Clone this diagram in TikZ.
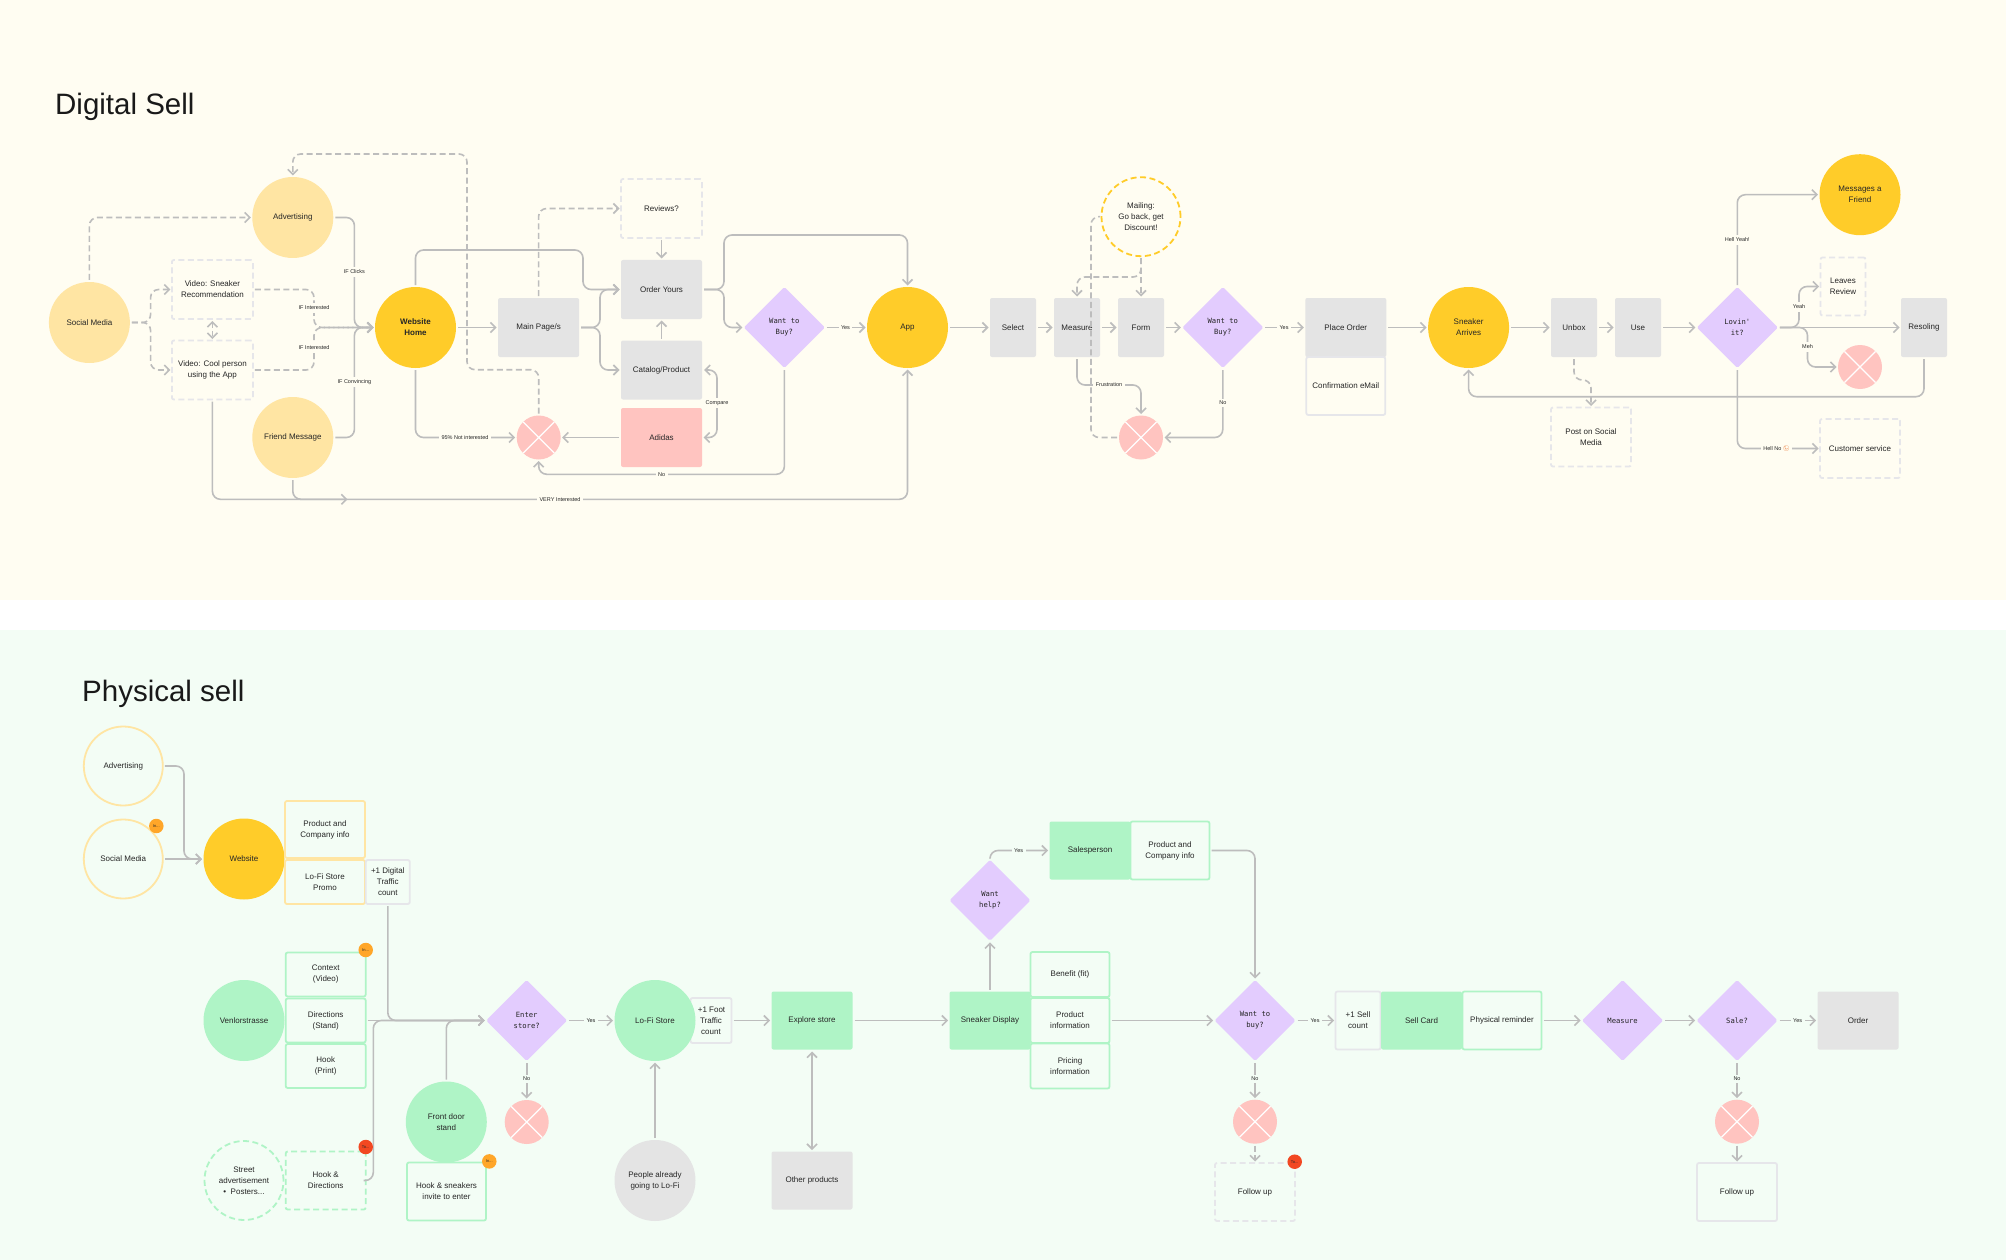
\documentclass[tikz,border=0pt]{standalone}
\usepackage{fontspec}
\setmainfont{Liberation Sans}
\newfontfamily\monof{DejaVu Sans Mono}
\newfontfamily\emojif{Noto Emoji}
\usetikzlibrary{arrows.meta,shapes.geometric}
\definecolor{bgY}{HTML}{FFFDF2}
\definecolor{bgG}{HTML}{F3FDF5}
\definecolor{cY}{HTML}{FFCC29}
\definecolor{cLY}{HTML}{FFE5A3}
\definecolor{cGr}{HTML}{E4E4E4}
\definecolor{cP}{HTML}{FFC4C0}
\definecolor{cV}{HTML}{E3CCFE}
\definecolor{cG}{HTML}{AFF4C6}
\definecolor{cT}{HTML}{262626}
\definecolor{cL}{HTML}{BDBDBD}
\definecolor{cD}{HTML}{E6E6EA}
\definecolor{cO}{HTML}{FFA629}
\definecolor{cR}{HTML}{F24822}
\definecolor{cE}{HTML}{E8641B}
\tikzset{
  sz/.style 2 args={minimum width=#1pt,minimum height=#2pt},
  base/.style={inner sep=0pt,outer sep=0pt,align=center,text=cT,font=\fontsize{8}{11}\selectfont},
  circ/.style={base,circle,minimum size=81pt},
  ycirc/.style={circ,fill=cY},
  lycirc/.style={circ,fill=cLY},
  gcirc/.style={circ,fill=cG},
  grcirc/.style={circ,fill=cGr},
  ocirc/.style={circ,draw=cLY,line width=1.8pt,minimum size=79pt},
  rect/.style={base,rectangle,rounded corners=2pt},
  grect/.style={rect,fill=cGr},
  grnrect/.style={rect,fill=cG},
  pinkrect/.style={rect,fill=cP},
  dashrect/.style={rect,draw=cD,line width=1.8pt,dash pattern=on 6pt off 3.5pt},
  lrect/.style={rect,draw=cD,line width=1.8pt},
  yrect/.style={rect,draw=cLY,line width=1.8pt},
  gnrect/.style={rect,draw=cG,line width=1.8pt},
  gndash/.style={rect,draw=cG,line width=1.8pt,dash pattern=on 6pt off 3.5pt},
  dia/.style={base,diamond,aspect=1,fill=cV,minimum width=81pt,minimum height=81pt,rounded corners=1.5pt,font=\monof\fontsize{7.2}{11}\selectfont},
  xc/.style={circle,minimum size=44pt,inner sep=0pt,outer sep=0pt,fill=cP,path picture={
     \draw[white,line width=1.2pt] (path picture bounding box.south west)--(path picture bounding box.north east)
       (path picture bounding box.north west)--(path picture bounding box.south east);}},
  con/.style={draw=cL,line width=1.6pt,rounded corners=8pt,shorten >=1.5pt,shorten <=2pt},
  arr/.style={con,-{Straight Barb[length=5pt,width=10pt]}},
  darr/.style={arr,dash pattern=on 6pt off 3.5pt},
  dline/.style={con,dash pattern=on 6pt off 3.5pt},
  both/.style={con,{Straight Barb[length=5pt,width=10pt]}-{Straight Barb[length=5pt,width=10pt]}},
  labY/.style={inner xsep=2.5pt,inner ysep=2.5pt,outer sep=0pt,fill=bgY,text=cT,font=\fontsize{5.5}{6}\selectfont},
  labG/.style={inner xsep=2.5pt,inner ysep=2.5pt,outer sep=0pt,fill=bgG,text=cT,font=\fontsize{5.5}{6}\selectfont},
  badge/.style={circle,minimum size=14.5pt,inner sep=0pt,text=cT,font=\fontsize{4}{4}\selectfont},
  title/.style={anchor=west,inner sep=0pt,text=black!90,font=\fontsize{29.5}{32}\selectfont},
}
\begin{document}
\begin{tikzpicture}[x=1pt,y=-1pt]
\useasboundingbox (0,0) rectangle (2006,1260);
\fill[white] (0,0) rectangle (2006,1260);
\fill[bgY] (0,0) rectangle (2006,600);
\fill[bgG] (0,630) rectangle (2006,1260);
\node[title] (t1) at (55,107) {Digital Sell};
\node[title] (t2) at (82,694) {Physical sell};

% ---------- Digital nodes
\node[lycirc] (sm) at (89.4,322.5) {Social Media};
\node[lycirc] (adv) at (292.8,217.5) {Advertising};
\node[lycirc] (fri) at (292.8,437.5) {Friend Message};
\node[ycirc,font=\fontsize{8}{11}\selectfont\bfseries] (home) at (415.5,327.5) {Website\\Home};
\node[dashrect,sz={81}{59}] (v1) at (212.4,289.5) {Video: Sneaker\\Recommendation};
\node[dashrect,sz={81}{59}] (v2) at (212.4,370) {Video: Cool person\\using the App};
\node[grect,sz={81}{59}] (main) at (538.6,327.5) {Main Page/s};
\node[dashrect,sz={81}{59}] (rev) at (661.5,208.5) {Reviews?};
\node[grect,sz={81}{59}] (ord) at (661.5,289.5) {Order Yours};
\node[grect,sz={81}{59}] (cat) at (661.5,370) {Catalog/Product};
\node[pinkrect,sz={81}{59}] (adi) at (661.5,437.5) {Adidas};
\node[xc] (x1) at (538.7,437.5) {};
\node[dia] (w1) at (784.4,327.5) {Want to\\Buy?};
\node[ycirc] (app) at (907.5,327.5) {App};
\node[grect,sz={46}{59}] (sel) at (1013,327.5) {Select};
\node[grect,sz={46}{59}] (mea) at (1077,327.5) {Measure};
\node[grect,sz={46}{59}] (form) at (1141,327.5) {Form};
\node[dia] (w2) at (1222.8,327.5) {Want to\\Buy?};
\node[circ,draw=cY,line width=1.8pt,dash pattern=on 6pt off 3.5pt,minimum size=79pt] (mail) at (1141,216.7) {Mailing:\\Go back, get\\Discount!};
\node[xc] (x2) at (1141,437.5) {};
\node[grect,sz={81}{59}] (place) at (1345.8,327.5) {Place Order};
\node[lrect,sz={79}{58}] (conf) at (1345.8,386) {Confirmation eMail};
\node[ycirc] (snk) at (1468.6,327.5) {Sneaker\\Arrives};
\node[grect,sz={46}{59}] (unb) at (1574,327.5) {Unbox};
\node[grect,sz={46}{59}] (use) at (1638,327.5) {Use};
\node[dia] (lov) at (1737.3,327.5) {Lovin'\\it?};
\node[ycirc] (msg) at (1860,194.7) {Messages a\\Friend};
\node[dashrect,sz={45}{58}] (lea) at (1843,286.5) {Leaves\\Review};
\node[grect,sz={46}{59}] (res) at (1924,327.5) {Resoling};
\node[xc] (x3) at (1860,367) {};
\node[dashrect,sz={80}{59}] (cus) at (1860,448.5) {Customer service};
\node[dashrect,sz={80}{59}] (post) at (1591,437) {Post on Social\\Media};

% ---------- Physical nodes
\node[ocirc] (padv) at (123.3,766) {Advertising};
\node[ocirc] (psm) at (123.3,859) {Social Media};
\node[ycirc] (web) at (244,859) {Website};
\node[yrect,sz={80}{57}] (pc1) at (325,829.5) {Product and\\Company info};
\node[yrect,sz={80}{44}] (lfp) at (325,882) {Lo-Fi Store\\Promo};
\node[lrect,sz={44}{44}] (dt) at (387.8,882) {+1 Digital\\Traffic\\count};
\node[gnrect,sz={80}{44}] (ctx) at (325.7,974.5) {Context\\(Video)};
\node[gnrect,sz={80}{44}] (dir) at (325.7,1020.5) {Directions\\(Stand)};
\node[gnrect,sz={80}{44}] (hk) at (325.7,1066) {Hook\\(Print)};
\node[gcirc] (ven) at (244,1020.5) {Venlorstrasse};
\node[dia] (ent) at (526.7,1020.5) {Enter\\store?};
\node[circ,draw=cG,line width=1.8pt,dash pattern=on 6pt off 3.5pt,minimum size=79pt] (str) at (244,1180.5) {Street\\advertisement\\ \textbullet\ \ Posters...};
\node[gndash,sz={80}{58}] (hd) at (325.7,1180.5) {Hook \&\\Directions};
\node[gcirc] (fd) at (446.3,1122) {Front door\\stand};
\node[gnrect,sz={79}{58}] (hs) at (446.5,1191.5) {Hook \& sneakers\\invite to enter};
\node[xc] (x4) at (526.7,1122) {};
\node[lrect,sz={41}{45}] (ft) at (711,1020.5) {\hspace*{1pt}+1 Foot\\Traffic\\count};
\node[gcirc] (lofi) at (655,1020.5) {Lo-Fi Store};
\node[grnrect,sz={81}{58}] (exp) at (812,1020.5) {Explore store};
\node[grnrect,sz={81}{58}] (dis) at (990,1020.5) {Sneaker Display};
\node[grect,sz={81}{58}] (oth) at (812,1180.5) {Other products};
\node[grcirc] (ppl) at (655,1180.5) {People already\\going to Lo-Fi};
\node[dia] (hlp) at (990,900.3) {Want\\help?};
\node[grnrect,sz={81}{58}] (sal) at (1090,850.5) {Salesperson};
\node[gnrect,sz={79}{58}] (pc2) at (1170,850.5) {Product and\\Company info};
\node[gnrect,sz={79}{45}] (ben) at (1070,974.5) {Benefit (fit)};
\node[gnrect,sz={79}{45}] (pri) at (1070,1020.5) {Product\\information};
\node[gnrect,sz={79}{45}] (prc) at (1070,1066) {Pricing\\information};
\node[dia] (buy) at (1255,1020.5) {Want to\\buy?};
\node[lrect,sz={45}{58}] (sc) at (1358,1020.5) {+1 Sell\\count};
\node[grnrect,sz={81}{58}] (car) at (1421.5,1020.5) {Sell Card};
\node[gnrect,sz={79}{58}] (phy) at (1502,1020.5) {Physical reminder};
\node[dia] (pme) at (1622.6,1020.5) {Measure};
\node[dia] (sale) at (1737,1020.5) {Sale?};
\node[grect,sz={81}{58}] (pord) at (1858,1020.5) {Order};
\node[xc] (x5) at (1255,1121.7) {};
\node[xc] (x6) at (1737,1121.7) {};
\node[dashrect,sz={80}{58}] (fu1) at (1255,1192) {Follow up};
\node[lrect,sz={80}{58}] (fu2) at (1737,1192) {Follow up};

% ---------- Digital connectors
\draw[darr] (sm.north) |- (adv.west);
\draw[darr] (sm.east) -- (150.6,322.5) |- (v1.west);
\draw[darr] (sm.east) -- (150.6,322.5) |- (v2.west);
\draw[both,dash pattern=on 5pt off 3pt] (v1.south) -- (v2.north);
\draw[darr] (v1.east) -- (314,289.5) -- (314,327.5) -- (home.west);
\draw[darr] (v2.east) -- (314,370) -- (314,327.5) -- (home.west);
\draw[arr] (adv.east) -- (354.4,217.5) -- (354.4,327.5) -- (home.west);
\draw[arr] (fri.east) -- (354.4,437.5) -- (354.4,327.5) -- (home.west);
\draw[arr] (v2.south) -- (212.4,499.3) -- (907.5,499.3) -- (app.south);
\coordinate (midchev) at (349,499.3);
\draw[arr] (fri.south) -- (292.8,499.3) -- (midchev);
\draw[arr] (home.south) |- (x1.west);
\draw[darr] (x1.north) -- (538.7,369.7) -- (467,369.7) -- (467,154) -- (292.8,154) -- (adv.north);
\draw[arr] (home.north) -- (415.5,250) -- (583,250) -- (583,289.5) -- (ord.west);
\draw[arr] (home.east) -- (main.west);
\draw[darr] (main.north) |- (rev.west);
\draw[arr] (main.east) -- (600,327.5) -- (600,289.5) -- (ord.west);
\draw[arr] (main.east) -- (600,327.5) -- (600,370) -- (cat.west);
\draw[arr] (rev.south) -- (ord.north);
\draw[arr] (cat.north) -- (ord.south);
\draw[arr] (adi.west) -- (x1.east);
\draw[both] (cat.east) -- (717,370) -- (717,437.5) -- (adi.east);
\draw[arr] (w1.south) -- (784.4,474.3) -- (538.7,474.3) -- (x1.south);
\draw[arr] (ord.east) -- (724,289.5) -- (724,235) -- (907.5,235) -- (app.north);
\draw[arr] (ord.east) -- (724,289.5) -- (724,327.5) -- (w1.west);
\draw[arr] (w1.east) -- (app.west);
\draw[arr] (app.east) -- (sel.west);
\draw[arr] (sel.east) -- (mea.west);
\draw[arr] (mea.east) -- (form.west);
\draw[arr] (form.east) -- (w2.west);
\draw[arr] (w2.east) -- (place.west);
\draw[darr] (mail.south) -- (form.north);
\draw[darr] (mail.south) -- (1141,277) -- (1077,277) -- (mea.north);
\draw[dline] (x2.west) -- (1091,437.5) -- (1091,216.7) -- (mail.west);
\draw[arr] (mea.south) -- (1077,385) -- (1141,385) -- (x2.north);
\draw[arr] (w2.south) -- (1222.8,437.5) -- (x2.east);
\draw[arr] (place.east) -- (snk.west);
\draw[arr] (snk.east) -- (unb.west);
\draw[arr] (unb.east) -- (use.west);
\draw[arr] (use.east) -- (lov.west);
\draw[darr] (unb.south) -- (1574,380) -- (1591,380) -- (post.north);
\draw[arr] (lov.north) |- (msg.west);
\draw[arr] (lov.east) -- (res.west);
\draw[arr] (lov.east) -- (1799,327.5) -- (1799,286.5) -- (lea.west);
\draw[arr] (lov.east) -- (1807.5,327.5) -- (1807.5,367) -- (x3.west);
\draw[arr] (lov.south) |- (cus.west);
\draw[arr] (res.south) -- (1924,396.7) -- (1468.6,396.7) -- (snk.south);

% ---------- Physical connectors
\draw[arr] (padv.east) -- (184,766) -- (184,859) -- (web.west);
\draw[arr] (psm.east) -- (web.west);
\draw[arr] (dt.south) -- (387.8,1020.5) -- (ent.west);
\draw[arr] (dir.east) -- (ent.west);
\draw[arr] (hd.east) -- (373.3,1180.5) -- (373.3,1020.5) -- (ent.west);
\draw[arr] (fd.north) -- (446.3,1020.5) -- (ent.west);
\draw[arr] (ent.east) -- (lofi.west);
\draw[arr] (ent.south) -- (x4.north);
\draw[arr] (ft.east) -- (exp.west);
\draw[arr] (ppl.north) -- (lofi.south);
\draw[both] (exp.south) -- (oth.north);
\draw[arr] (exp.east) -- (dis.west);
\draw[arr] (dis.north) -- (hlp.south);
\draw[arr] (hlp.north) -- (990,850.5) -- (sal.west);
\draw[arr] (pc2.east) -- (1255,850.5) -- (buy.north);
\draw[arr] (pri.east) -- (buy.west);
\draw[arr] (buy.east) -- (sc.west);
\draw[arr] (buy.south) -- (x5.north);
\draw[darr] (x5.south) -- (fu1.north);
\draw[arr] (phy.east) -- (pme.west);
\draw[arr] (pme.east) -- (sale.west);
\draw[arr] (sale.east) -- (pord.west);
\draw[arr] (sale.south) -- (x6.north);
\draw[arr] (x6.south) -- (fu2.north);

% ---------- Labels
\node[labY] (l1) at (354.4,272) {IF Clicks};
\node[labY] (l2) at (354.4,382) {IF Convincing};
\node[labY] (l3) at (314,308) {IF Interested};
\node[labY] (l4) at (314,348) {IF Interested};
\node[labY] (l5) at (560,499.3) {VERY Interested};
\node[labY] (l6) at (465,437.5) {95\% Not interested};
\node[labY] (l7) at (661.6,474.3) {No};
\node[labY] (l8) at (717,403) {Compare};
\node[labY] (l9) at (845.5,327.5) {Yes};
\node[labY] (l10) at (1109,385) {Frustration};
\node[labY] (l11) at (1222.8,403) {No};
\node[labY] (l12) at (1284,327.5) {Yes};
\node[labY] (l13) at (1737.3,240) {Hell Yeah!};
\node[labY] (l14) at (1799,307) {Yeah};
\node[labY] (l15) at (1807.5,347) {Meh};
\node[labY] (l16) at (1776.6,448.5) {Hell No {\emojif\color{cE}\fontsize{5.5}{6}\selectfont 😡}};
\node[labG] (l17) at (591,1020.5) {Yes};
\node[labG] (l18) at (526.7,1079) {No};
\node[labG] (l19) at (1018.6,850.5) {Yes};
\node[labG] (l20) at (1315,1020.5) {Yes};
\node[labG] (l21) at (1255,1079) {No};
\node[labG] (l22) at (1797.7,1020.5) {Yes};
\node[labG] (l23) at (1737,1079) {No};

% ---------- Badges
\node[badge,fill=cO] (b1) at (156.3,826) {In...};
\node[badge,fill=cO] (b2) at (365.7,950) {In...};
\node[badge,fill=cR] (b3) at (365.7,1147) {To...};
\node[badge,fill=cO] (b4) at (489.3,1161.4) {In...};
\node[badge,fill=cR] (b5) at (1294.7,1161.7) {To...};
\end{tikzpicture}
\end{document}
